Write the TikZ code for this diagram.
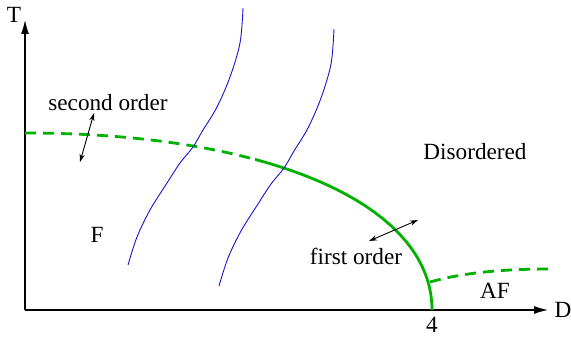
\documentclass[tikz,border=0pt]{standalone}
\usepackage{fontspec}
\setmainfont{Liberation Serif}
\usetikzlibrary{arrows.meta}
\definecolor{phasegreen}{RGB}{0,178,0}
\definecolor{pathblue}{RGB}{20,20,210}
\tikzset{
  axis/.style={line width=0.6pt,-{Latex[length=7pt,width=4pt]}},
  phase/.style={phasegreen,line width=1.4pt},
  cont/.style={phase,dash pattern=on 5.5pt off 3.5pt},
  path/.style={pathblue,line width=0.45pt},
  flip/.style={line width=0.45pt,{Stealth[length=4pt,width=2.6pt]}-{Stealth[length=4pt,width=2.6pt]}},
  lbl/.style={inner sep=0pt,font=\fontsize{11.6}{14}\selectfont}
}
\begin{document}
\begin{tikzpicture}[x=0.5pt,y=0.5pt]
  \useasboundingbox (0,0) rectangle (571,341);
  % axes
  \coordinate (O) at (25,31);
  \coordinate (Ttip) at (25,321);
  \coordinate (Dtip) at (548,31);
  \draw[axis] (O)--(Ttip);
  \draw[axis] (O)--(Dtip);
  \node[lbl] (T) at (14,326) {T};
  \node[lbl] (D) at (563,31) {D};
  \node[lbl] (four) at (432,16) {4};
  % transition line, dashed left of the tricritical point
  \begin{scope}
    \clip (0,0) rectangle (255,341);
    \draw[cont] (25,208) .. controls (269,208) and (432,137) .. (432,31);
  \end{scope}
  \begin{scope}
    \clip (255,0) rectangle (571,341);
    \draw[phase] (25,208) .. controls (269,208) and (432,137) .. (432,31);
  \end{scope}
  \draw[cont] (430,59) .. controls (462,68) and (500,72) .. (552,72);
  % trajectories
  \foreach \dx/\dy in {0/0,91/-21}{
    \begin{scope}[shift={(\dx,\dy)}]
      \draw[path] plot[smooth,tension=0.55] coordinates {(243,333) (240,298) (230,264) (217,234)
        (203,211) (193,194) (180,178) (167,158) (150,131) (137,104) (128,76)};
    \end{scope}
  }
  % arrows
  \coordinate (s1) at (94,228);
  \coordinate (s2) at (80,179);
  \draw[flip] (s1)--(s2);
  \coordinate (f1) at (369,100);
  \coordinate (f2) at (418,121);
  \draw[flip] (f1)--(f2);
  % labels
  \node[lbl] (second) at (108,238) {second order};
  \node[lbl] (first) at (356,85) {first order};
  \node[lbl] (F) at (97,106) {F};
  \node[lbl] (dis) at (475,189) {Disordered};
  \node[lbl] (AF) at (495,50) {AF};
\end{tikzpicture}
\end{document}
